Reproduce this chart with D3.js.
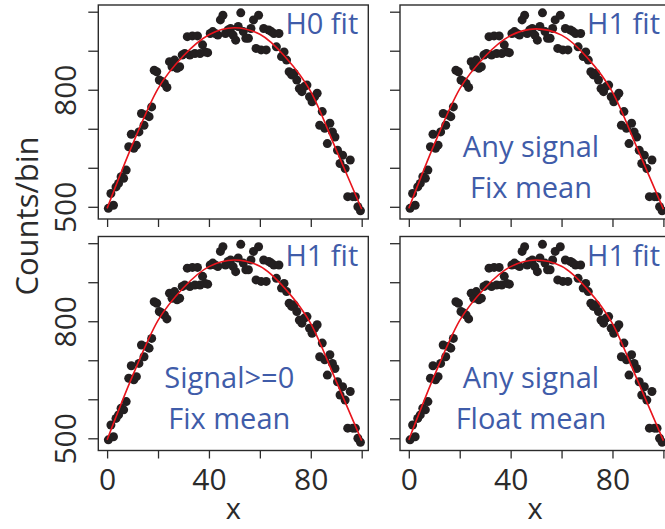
<!DOCTYPE html>
<html>
<head>
<meta charset="utf-8">
<script src="https://cdn.jsdelivr.net/npm/d3@7"></script>
<style>
  body { margin: 0; background: #fff; }
  svg { display: block; }
  text { font-family: "Open Sans", sans-serif; }
</style>
</head>
<body>
<svg id="chart" width="665" height="529"></svg>
<script>
// Bin centres of the histogram (100 bins of width 1 on [0, 100])
const binCenters = d3.range(0.5, 100, 1);

// Observed counts per bin
const counts = [
  496, 534, 504, 551, 560, 577, 573, 594, 654, 686,
  650, 658, 692, 739, 709, 735, 731, 756, 850, 846,
  825, 821, 816, 806, 872, 859, 876, 855, 859, 889,
  893, 936, 889, 938, 893, 938, 893, 915, 897, 895,
  944, 949, 944, 940, 979, 991, 944, 953, 957, 940,
  927, 962, 997, 949, 932, 932, 957, 979, 906, 991,
  902, 957, 902, 953, 949, 944, 910, 944, 885, 897,
  876, 846, 838, 842, 825, 803, 795, 808, 812, 782,
  769, 782, 791, 709, 744, 701, 662, 714, 692, 679,
  645, 611, 632, 598, 526, 620, 526, 526, 500, 490
];

// Fitted curves, sampled every 10 units of x
const fitX        = [0, 10, 20, 30, 40, 50, 60, 70, 80, 90, 100];
const fitH0       = [496, 660, 803, 887, 941, 959, 942, 884, 795, 646, 494];
const fitAnyFix   = [496, 660, 802, 886, 939, 956, 940, 883, 794, 646, 494];
const fitPosFix   = [496, 660, 802, 886, 940, 957, 941, 883, 794, 646, 494];
const fitAnyFloat = [496, 660, 802, 886, 940, 957, 941, 883, 794, 646, 494];

// Axis ticks and the subset that carries labels
const xTicks = [0, 20, 40, 60, 80, 100];
const xTickLabels = [0, 40, 80];
const yTicks = [500, 600, 700, 800, 900, 1000];
const yTickLabels = [500, 800];

// Panel annotations
const fitTags = ["H0 fit", "H1 fit", "H1 fit", "H1 fit"];
const panelNotes = [[], ["Any signal", "Fix mean"], ["Signal>=0", "Fix mean"], ["Any signal", "Float mean"]];
const panelFits = [fitH0, fitAnyFix, fitPosFix, fitAnyFloat];

const svg = d3.select("#chart");
const colLeft = [98.3, 400];
const rowTop = [5, 236.5];
const W = 270, H = 214;
const ink = "#2b2b2b";
const blue = "#3f5ca9";

panelFits.forEach((fit, k) => {
  const col = k % 2, row = Math.floor(k / 2);
  const left = colLeft[col], top = rowTop[row];
  const g = svg.append("g").attr("transform", `translate(${left},${top})`);

  const x = d3.scaleLinear().domain([0, 100]).range([8.8, 263.4]);
  const y = d3.scaleLinear().domain([500, 1000]).range([201.8, 6.7]);

  // Points
  g.append("g").selectAll("circle")
    .data(binCenters.map((c, i) => [c, counts[i]]))
    .join("circle")
    .attr("cx", d => x(d[0]))
    .attr("cy", d => y(d[1]))
    .attr("r", 4.5)
    .attr("fill", "#231f20");

  // Fitted curve
  const line = d3.line().x(d => x(d[0])).y(d => y(d[1])).curve(d3.curveMonotoneX);
  g.append("path")
    .datum(fitX.map((v, i) => [v, fit[i]]))
    .attr("d", line)
    .attr("fill", "none")
    .attr("stroke", "#e8141c")
    .attr("stroke-width", 1.6);

  // Frame
  g.append("rect")
    .attr("x", 0).attr("y", 0).attr("width", W).attr("height", H)
    .attr("fill", "none").attr("stroke", ink).attr("stroke-width", 1.4);

  // Bottom axis
  const xa = g.append("g").attr("transform", `translate(0,${H})`)
    .call(d3.axisBottom(x).tickValues(xTicks).tickSize(8).tickSizeOuter(0)
      .tickFormat(d => (row === 1 && xTickLabels.includes(d)) ? d : ""));
  xa.select(".domain").remove();
  xa.selectAll("line").attr("stroke", ink).attr("stroke-width", 1.3);
  xa.selectAll("text").attr("y", 39.5).attr("dy", 0)
    .attr("font-size", 30).attr("fill", ink);

  // Left axis
  const ya = g.append("g")
    .call(d3.axisLeft(y).tickValues(yTicks).tickSize(10).tickSizeOuter(0)
      .tickFormat(d => (col === 0 && yTickLabels.includes(d)) ? d : ""));
  ya.select(".domain").remove();
  ya.selectAll("line").attr("stroke", ink).attr("stroke-width", 1.3);
  ya.selectAll("text")
    .attr("transform", "rotate(-90)")
    .attr("x", 0).attr("y", -22).attr("dy", 0)
    .attr("text-anchor", "middle")
    .attr("font-size", 30).attr("fill", ink);

  // Annotations
  g.append("text")
    .attr("x", W - 10).attr("y", 29)
    .attr("text-anchor", "end")
    .attr("font-size", 29).attr("fill", blue)
    .text(fitTags[k]);
  panelNotes[k].forEach((t, j) => {
    g.append("text")
      .attr("x", 131).attr("y", 151.5 + j * 41)
      .attr("text-anchor", "middle")
      .attr("font-size", 29).attr("fill", blue)
      .text(t);
  });
});

// Axis titles
svg.append("text")
  .attr("transform", "translate(38,216) rotate(-90)")
  .attr("text-anchor", "middle")
  .attr("font-size", 31).attr("fill", ink)
  .text("Counts/bin");

[0, 1].forEach(c => {
  svg.append("text")
    .attr("x", colLeft[c] + 135).attr("y", 519)
    .attr("text-anchor", "middle")
    .attr("font-size", 29).attr("fill", ink)
    .text("x");
});
</script>
</body>
</html>
